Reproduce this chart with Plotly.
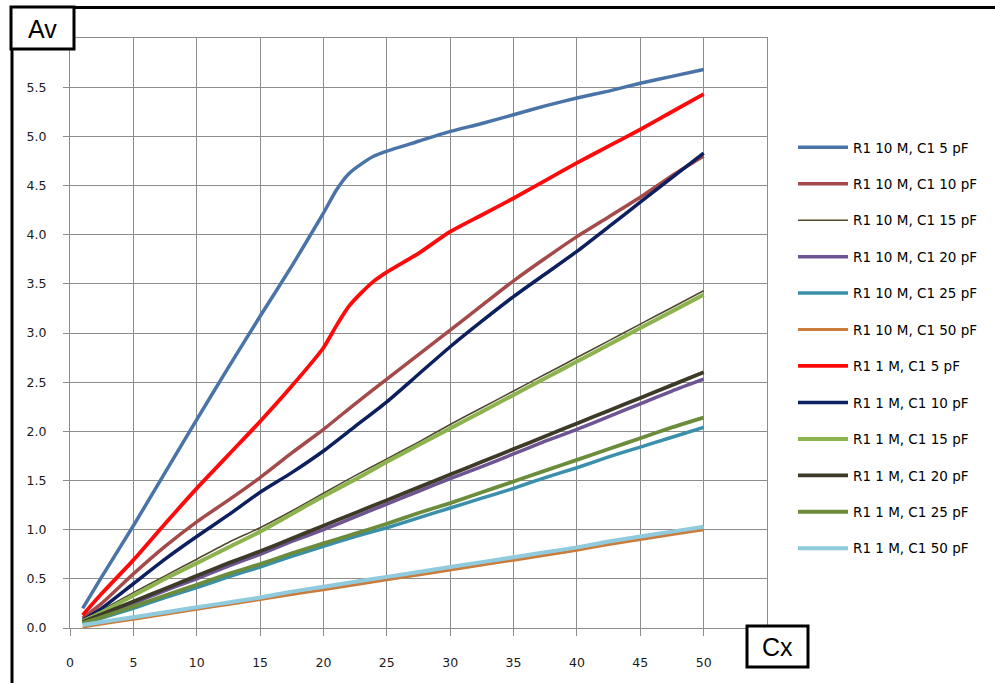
import plotly.graph_objects as go

# Capacitance Cx (pF) sample points
cx = [1, 2.5, 5, 7.5, 10, 12.5, 15, 17.5, 20, 22.5, 25, 27.5, 30, 32.5, 35,
      37.5, 40, 42.5, 45, 47.5, 50]
cx_knee = [1, 2.5, 5, 7.5, 10, 12.5, 15, 17.5, 20, 21, 22, 23, 24, 25, 27.5,
           30, 32.5, 35, 37.5, 40, 42.5, 45, 47.5, 50]

# Voltage gain Av for each R1 / C1 combination
av_10m_5 = [0.20, 0.52, 1.04, 1.58, 2.12, 2.65, 3.17, 3.68, 4.22, 4.45, 4.62,
            4.72, 4.80, 4.85, 4.95, 5.05, 5.13, 5.22, 5.31, 5.39, 5.46, 5.54,
            5.61, 5.68]
av_10m_10 = [0.10, 0.25, 0.55, 0.83, 1.08, 1.30, 1.53, 1.78, 2.02, 2.28, 2.53,
             2.78, 3.03, 3.28, 3.53, 3.76, 3.98, 4.18, 4.38, 4.60, 4.80]
av_10m_15 = [0.08, 0.18, 0.36, 0.53, 0.70, 0.87, 1.02, 1.19, 1.37, 1.55, 1.72,
             1.89, 2.07, 2.24, 2.41, 2.58, 2.75, 2.92, 3.09, 3.26, 3.43]
av_10m_20 = [0.05, 0.12, 0.25, 0.38, 0.50, 0.63, 0.75, 0.88, 1.00, 1.13, 1.26,
             1.39, 1.52, 1.64, 1.77, 1.90, 2.02, 2.15, 2.28, 2.41, 2.53]
av_10m_25 = [0.04, 0.10, 0.20, 0.31, 0.41, 0.52, 0.62, 0.73, 0.83, 0.93, 1.02,
             1.12, 1.22, 1.32, 1.42, 1.53, 1.63, 1.74, 1.84, 1.94, 2.04]
av_10m_50 = [0.01, 0.04, 0.09, 0.14, 0.19, 0.24, 0.29, 0.34, 0.39, 0.44, 0.49,
             0.54, 0.59, 0.64, 0.69, 0.74, 0.79, 0.85, 0.90, 0.95, 1.00]
av_1m_5 = [0.13, 0.35, 0.69, 1.06, 1.42, 1.76, 2.10, 2.46, 2.85, 3.07, 3.27,
           3.41, 3.53, 3.62, 3.81, 4.03, 4.20, 4.37, 4.55, 4.73, 4.90, 5.07,
           5.25, 5.43]
av_1m_10 = [0.08, 0.20, 0.45, 0.70, 0.93, 1.15, 1.38, 1.58, 1.80, 2.05, 2.30,
            2.58, 2.86, 3.12, 3.37, 3.60, 3.83, 4.08, 4.33, 4.58, 4.83]
av_1m_15 = [0.07, 0.16, 0.33, 0.50, 0.66, 0.82, 0.98, 1.16, 1.34, 1.51, 1.69,
            1.86, 2.03, 2.20, 2.37, 2.54, 2.71, 2.88, 3.05, 3.22, 3.39]
av_1m_20 = [0.06, 0.14, 0.27, 0.40, 0.53, 0.66, 0.78, 0.91, 1.04, 1.17, 1.30,
            1.43, 1.56, 1.69, 1.82, 1.95, 2.08, 2.21, 2.34, 2.47, 2.60]
av_1m_25 = [0.05, 0.11, 0.22, 0.33, 0.44, 0.55, 0.65, 0.76, 0.86, 0.96, 1.06,
            1.17, 1.27, 1.38, 1.49, 1.60, 1.71, 1.82, 1.93, 2.04, 2.14]
av_1m_50 = [0.03, 0.06, 0.11, 0.16, 0.21, 0.26, 0.31, 0.37, 0.42, 0.47, 0.52,
            0.57, 0.62, 0.67, 0.72, 0.77, 0.82, 0.88, 0.93, 0.98, 1.03]

x_ticks = [0, 5, 10, 15, 20, 25, 30, 35, 40, 45, 50]
y_ticks = [0.0, 0.5, 1.0, 1.5, 2.0, 2.5, 3.0, 3.5, 4.0, 4.5, 5.0, 5.5]

series = [
    ("R1 10 M, C1 5 pF", cx_knee, av_10m_5, "#4A73A8", 3.5),
    ("R1 10 M, C1 10 pF", cx, av_10m_10, "#A44A4A", 3.5),
    ("R1 10 M, C1 15 pF", cx, av_10m_15, "#4F4A2C", 1.6),
    ("R1 10 M, C1 20 pF", cx, av_10m_20, "#6E5493", 3.5),
    ("R1 10 M, C1 25 pF", cx, av_10m_25, "#3A8FAA", 3.5),
    ("R1 10 M, C1 50 pF", cx, av_10m_50, "#C97C3C", 3.0),
    ("R1 1 M, C1 5 pF", cx_knee, av_1m_5, "#FF0A0A", 3.8),
    ("R1 1 M, C1 10 pF", cx, av_1m_10, "#0C1F5E", 3.5),
    ("R1 1 M, C1 15 pF", cx, av_1m_15, "#8DB34E", 4.0),
    ("R1 1 M, C1 20 pF", cx, av_1m_20, "#3E3A28", 3.8),
    ("R1 1 M, C1 25 pF", cx, av_1m_25, "#6B8C3B", 3.8),
    ("R1 1 M, C1 50 pF", cx, av_1m_50, "#8FCBDD", 4.0),
]

fig = go.Figure()
for i, (name, xs, ys, color, width) in enumerate(series):
    fig.add_trace(go.Scatter(
        x=xs, y=ys, mode="lines", name=name, legendgroup=f"g{i}",
        line=dict(color=color, width=width, shape="spline", smoothing=0.6),
    ))

W, H = 995, 683
L, R, T, B = 70, 767, 38, 628  # plot area in pixels


def px(x):
    return (x - L) / (R - L)


def py(y):
    return (B - y) / (B - T)


grid = "#8C8C8C"
paper = dict(xref="paper", yref="paper")
shapes = [
    # outer frame: left and top edges
    dict(type="line", x0=px(12), x1=px(12), y0=py(49), y1=py(690),
         line=dict(color="black", width=3), **paper),
    dict(type="line", x0=px(74), x1=px(1000), y0=py(7.5), y1=py(7.5),
         line=dict(color="black", width=3), **paper),
    # axis title boxes
    dict(type="rect", x0=px(11), x1=px(74), y0=py(7), y1=py(49),
         line=dict(color="black", width=3), fillcolor="white", **paper),
    dict(type="rect", x0=px(747), x1=px(808), y0=py(626), y1=py(667),
         line=dict(color="black", width=3), fillcolor="white", **paper),
]

annotations = [
    dict(text="Av", x=px(42), y=py(29), xanchor="center", yanchor="middle",
         showarrow=False,
         font=dict(family="Liberation Sans", size=25, color="black"), **paper),
    dict(text="Cx", x=px(777.5), y=py(647), xanchor="center",
         yanchor="middle", showarrow=False,
         font=dict(family="Liberation Sans", size=25, color="black"), **paper),
]

fig.update_layout(
    width=W, height=H,
    margin=dict(l=L, r=W - R, t=T, b=H - B),
    paper_bgcolor="white", plot_bgcolor="white",
    font=dict(family="DejaVu Sans", size=12, color="#1a1a1a"),
    showlegend=True,
    legend=dict(
        x=px(793), y=py(132), xanchor="left", yanchor="top",
        bgcolor="rgba(0,0,0,0)", font=dict(size=13.5, color="black"),
        tracegroupgap=15.9, itemwidth=50,
    ),
    xaxis=dict(
        range=[0, 55], tickvals=x_ticks, ticktext=[str(v) for v in x_ticks],
        showgrid=True, gridcolor=grid, gridwidth=1.3,
        showline=True, linecolor=grid, linewidth=1.3, mirror=True,
        ticks="outside", ticklen=7, tickcolor=grid, tickwidth=1.3,
        ticklabelstandoff=16, zeroline=False, fixedrange=True,
        tickfont=dict(size=12.5),
    ),
    yaxis=dict(
        range=[0, 6], tickvals=y_ticks, ticktext=[f"{v:.1f}" for v in y_ticks],
        showgrid=True, gridcolor=grid, gridwidth=1.3,
        showline=True, linecolor=grid, linewidth=1.3, mirror=True,
        ticks="outside", ticklen=6, tickcolor=grid, tickwidth=1.3,
        ticklabelstandoff=14, zeroline=False, fixedrange=True,
        tickfont=dict(size=12.5),
    ),
    shapes=shapes,
    annotations=annotations,
)

fig.write_html("out.html")
